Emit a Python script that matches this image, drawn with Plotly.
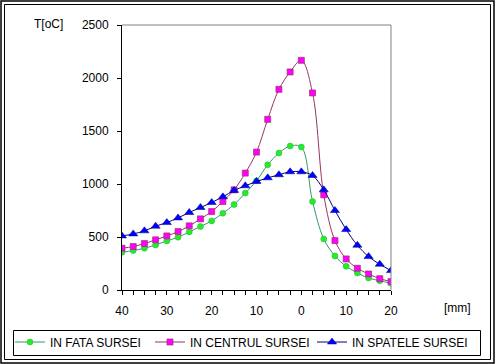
import plotly.graph_objects as go

# positions (mm), 2.5 mm step from 40 (front) through 0 to 20 (back)
x_mm = [-40 + 2.5 * i for i in range(25)]
x_tick_vals = x_mm
x_tick_text = ["40", "", "", "", "30", "", "", "", "20", "", "", "", "10", "", "", "",
               "0", "", "", "", "10", "", "", "", "20"]

in_fata = [356, 372, 394, 425, 463, 498, 548, 599, 652, 725, 806, 914, 1030, 1181, 1292,
           1358, 1348, 835, 482, 321, 224, 161, 113, 88, 63]
in_centrul = [394, 410, 438, 473, 510, 551, 605, 671, 740, 835, 945, 1103, 1301, 1610, 1893,
              2057, 2167, 1859, 898, 466, 293, 205, 151, 107, 79]
in_spatele = [510, 529, 558, 602, 636, 680, 731, 778, 825, 879, 939, 983, 1024, 1058, 1087,
              1115, 1115, 1080, 945, 750, 570, 422, 315, 243, 183]

names = ["IN FATA SURSEI", "IN CENTRUL SURSEI", "IN SPATELE SURSEI"]
y_ticks = [0, 500, 1000, 1500, 2000, 2500]

W, H = 495, 364
L, R, T, B = 122, 391, 25, 290


def px(x):
    return (x - L) / (R - L)


def py(y):
    return (B - y) / (B - T)


FONT = "Liberation Sans, Arial, sans-serif"

fig = go.Figure()
fig.add_trace(go.Scatter(
    x=x_mm, y=in_fata, name=names[0], mode="lines+markers", legend="legend",
    line=dict(color="#339966", width=1, shape="spline"),
    marker=dict(symbol="circle", size=6, color="#22ee22", line=dict(color="#33aa55", width=0.5))))
fig.add_trace(go.Scatter(
    x=x_mm, y=in_centrul, name=names[1], mode="lines+markers", legend="legend2",
    line=dict(color="#993366", width=1, shape="spline"),
    marker=dict(symbol="square", size=6, color="#ff00ff", line=dict(color="#993366", width=0.7))))
fig.add_trace(go.Scatter(
    x=x_mm, y=in_spatele, name=names[2], mode="lines+markers", legend="legend3",
    line=dict(color="#000080", width=1, shape="spline"),
    marker=dict(symbol="triangle-up", size=8, color="#0000ff", line=dict(color="#000080", width=0.5))))

shapes = [
    # top and right gray plot border
    dict(type="line", xref="paper", yref="paper", x0=0, x1=1, y0=1, y1=1,
         line=dict(color="#808080", width=1)),
    dict(type="line", xref="paper", yref="paper", x0=1, x1=1, y0=0, y1=1,
         line=dict(color="#808080", width=1)),
    # legend box
    dict(type="rect", xref="paper", yref="paper", x0=px(13.5), x1=px(480.5), y0=py(355.5), y1=py(330.5),
         line=dict(color="black", width=1)),
    # outer double frame
    dict(type="rect", xref="paper", yref="paper", x0=px(1), x1=px(494), y0=py(363), y1=py(1),
         line=dict(color="black", width=1.5)),
    dict(type="rect", xref="paper", yref="paper", x0=px(4.5), x1=px(490.5), y0=py(359.5), y1=py(4.5),
         line=dict(color="black", width=1)),
]

annotations = [
    dict(text="T[oC]", xref="paper", yref="paper", x=px(48), y=py(24), showarrow=False,
         xanchor="center", yanchor="middle", font=dict(family=FONT, size=12, color="black")),
    dict(text="[mm]", xref="paper", yref="paper", x=px(457), y=py(308), showarrow=False,
         xanchor="center", yanchor="middle", font=dict(family=FONT, size=12, color="black")),
]


def leg(xpix):
    return dict(orientation="h", x=px(xpix), y=py(342), xanchor="left", yanchor="middle",
                bgcolor="rgba(0,0,0,0)", borderwidth=0, font=dict(family=FONT, size=12),
                itemwidth=30)


fig.update_layout(
    width=W, height=H,
    margin=dict(l=L, r=W - R, t=T, b=H - B, pad=0, autoexpand=False),
    paper_bgcolor="white", plot_bgcolor="white",
    font=dict(family=FONT, size=12, color="black"),
    showlegend=True,
    legend=leg(10), legend2=leg(150), legend3=leg(312),
    shapes=shapes, annotations=annotations,
    xaxis=dict(range=[-40, 20], tickvals=x_tick_vals, ticktext=x_tick_text,
               showgrid=False, zeroline=False, showline=True, linecolor="black", linewidth=1,
               ticks="outside", ticklen=4, tickcolor="black", tickwidth=1,
               ticklabelstandoff=6),
    yaxis=dict(range=[0, 2500], tickvals=y_ticks, showgrid=False, zeroline=False,
               showline=True, linecolor="black", linewidth=1,
               ticks="outside", ticklen=4, tickcolor="black", tickwidth=1,
               ticklabelstandoff=6),
)

fig.write_html("out.html", config={"displayModeBar": False},
               post_script="document.body.style.margin='0';document.body.style.overflow='hidden';")
